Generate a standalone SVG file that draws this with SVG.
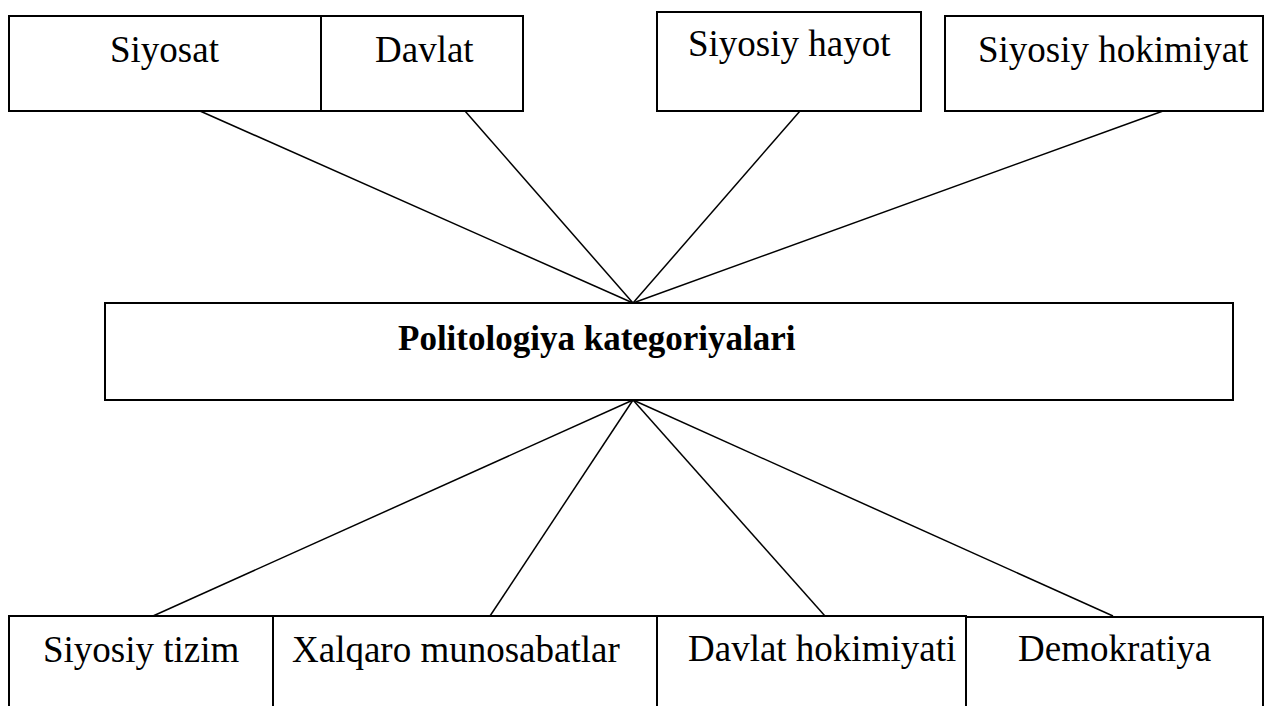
<svg xmlns="http://www.w3.org/2000/svg" width="1273" height="706" viewBox="0 0 1273 706">
<style>
.box{fill:#fff;stroke:#000;stroke-width:2}
.ln{stroke:#000;stroke-width:1.5;fill:none}
.t{font-family:"Liberation Serif","Times New Roman","DejaVu Serif",serif;font-size:37px;fill:#000}
.b{font-family:"Liberation Serif","Times New Roman","DejaVu Serif",serif;font-size:35px;font-weight:bold;fill:#000}
</style>
<rect width="1273" height="706" fill="#fff"/>
<g id="connectors">
<line class="ln" x1="200" y1="111" x2="633" y2="303"/>
<line class="ln" x1="465" y1="111" x2="633" y2="303"/>
<line class="ln" x1="800" y1="111" x2="633" y2="303"/>
<line class="ln" x1="1163" y1="111" x2="633" y2="303"/>
<line class="ln" x1="633" y1="400" x2="153" y2="616"/>
<line class="ln" x1="633" y1="400" x2="490" y2="616"/>
<line class="ln" x1="633" y1="400" x2="825" y2="616"/>
<line class="ln" x1="633" y1="400" x2="1113" y2="616"/>
</g>
<g id="n-siyosat">
<rect class="box" x="9" y="16" width="312" height="95"/>
<text class="t" x="110" y="62">Siyosat</text>
</g>
<g id="n-davlat">
<rect class="box" x="321" y="16" width="202" height="95"/>
<text class="t" x="375" y="62">Davlat</text>
</g>
<g id="n-siyosiy-hayot">
<rect class="box" x="657" y="12" width="264" height="99"/>
<text class="t" x="688" y="56">Siyosiy hayot</text>
</g>
<g id="n-siyosiy-hokimiyat">
<rect class="box" x="945" y="16" width="318" height="95"/>
<text class="t" x="978" y="62">Siyosiy hokimiyat</text>
</g>
<g id="n-center">
<rect class="box" x="105" y="303" width="1128" height="97"/>
<text class="b" x="398" y="350">Politologiya kategoriyalari</text>
</g>
<g id="n-siyosiy-tizim">
<rect class="box" x="9" y="616" width="264" height="100"/>
<text class="t" x="43" y="662">Siyosiy tizim</text>
</g>
<g id="n-xalqaro">
<rect class="box" x="273" y="616" width="384" height="100"/>
<text class="t" x="292" y="662">Xalqaro munosabatlar</text>
</g>
<g id="n-davlat-hokimiyati">
<rect class="box" x="657" y="616" width="309" height="100"/>
<text class="t" x="688" y="661">Davlat hokimiyati</text>
</g>
<g id="n-demokratiya">
<rect class="box" x="966" y="617" width="297" height="100"/>
<text class="t" x="1018" y="661">Demokratiya</text>
</g>
</svg>
